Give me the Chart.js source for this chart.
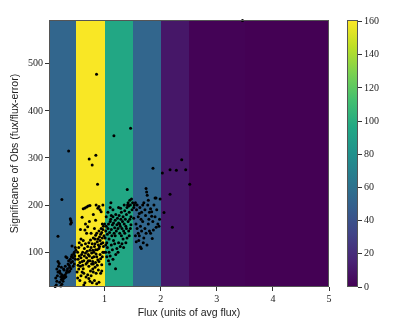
<!DOCTYPE html>
<html>
<head>
<meta charset="utf-8">
<script src="https://cdn.jsdelivr.net/npm/chart.js@4.4.1/dist/chart.umd.min.js"></script>
<style>
  html, body { margin: 0; padding: 0; background: #ffffff; }
  #wrap { position: relative; width: 407px; height: 327px; }
  #wrap canvas { position: absolute; left: 0; top: 0; }
</style>
</head>
<body>
<div id="wrap">
  <canvas id="main" width="407" height="327"></canvas>
  <canvas id="cbar" width="407" height="327"></canvas>
</div>
<script>
// ---- data ----
const binEdges = [0, 0.5, 1.0, 1.5, 2.0, 2.5, 3.0, 3.5, 4.0, 4.5, 5.0];
const binCounts = [53, 160, 96, 53, 10, 1, 1, 0, 0, 0];
const xTicks = [1, 2, 3, 4, 5];
const yTicks = [100, 200, 300, 400, 500];
const cbTicks = [0, 20, 40, 60, 80, 100, 120, 140, 160];
const xTitle = 'Flux (units of avg flux)';
const yTitle = 'Significance of Obs (fux/flux-error)';

// flux, significance
const pointsLow = [
  [0.12,27],[0.14,30],[0.15,38],[0.13,45],[0.16,50],[0.17,58],[0.15,64],[0.18,70],[0.19,76],[0.17,80],
  [0.2,60],[0.21,55],[0.22,48],[0.23,42],[0.24,52],[0.25,45],[0.26,48],[0.27,44],[0.28,50],[0.29,46],
  [0.30,52],[0.31,48],[0.32,56],[0.33,60],[0.34,65],[0.30,70],[0.28,62],[0.26,38],[0.24,32],[0.22,28],
  [0.2,36],[0.35,75],[0.36,82],[0.37,72],[0.38,68],[0.39,85],[0.4,78],[0.41,90],[0.42,94],[0.43,80],
  [0.44,88],[0.45,96],[0.46,100],[0.47,92],[0.48,110],[0.49,104],[0.42,113],[0.44,70],[0.38,60],[0.33,88],
  [0.31,90],[0.27,64],[0.23,68],[0.36,58],[0.4,65],[0.46,75],[0.48,85],
  [0.17,134],[0.24,212],[0.36,315],[0.39,171],[0.40,167],[0.41,163],[0.395,160]
];
const pointsMid = [
  [0.55,92],[0.52,100],[0.53,85],[0.56,78],[0.57,70],[0.54,64],[0.58,88],[0.59,95],[0.6,80],[0.61,72],
  [0.62,65],[0.6,58],[0.58,50],[0.56,40],[0.63,30],[0.65,35],[0.67,47],[0.7,52],[0.72,44],[0.74,38],
  [0.78,35],[0.82,40],[0.86,33],[0.9,36],[0.93,55],[0.95,60],[0.75,60],[0.8,58],[0.64,92],[0.66,98],
  [0.68,88],[0.69,78],[0.71,82],[0.73,92],[0.74,104],[0.76,110],[0.77,98],[0.78,88],[0.79,80],[0.8,75],
  [0.81,100],[0.82,112],[0.83,118],[0.84,105],[0.85,96],[0.86,90],[0.87,122],[0.88,128],[0.89,115],[0.9,108],
  [0.91,132],[0.92,125],[0.93,138],[0.94,118],[0.95,142],[0.96,130],[0.97,148],[0.98,112],[0.99,135],[0.97,100],
  [0.92,95],[0.88,84],[0.84,78],[0.72,70],[0.67,75],[0.63,82],[0.61,100],[0.7,112],[0.72,120],[0.75,126],
  [0.78,118],[0.8,130],[0.84,136],[0.86,140],[0.9,145],[0.94,150],[0.98,155],[0.96,160],[0.82,150],[0.76,140],
  [0.68,140],[0.65,147],[0.7,154],[0.6,174],[0.84,168],[0.62,192],[0.65,194],[0.68,196],[0.71,198],[0.74,199],
  [0.85,200],[0.88,193],[0.9,197],[0.92,190],[0.97,200],[0.94,186],[0.8,180],[0.73,165],[0.66,160],[0.57,148],
  [0.55,120],[0.54,110],[0.59,115],[0.62,125],[0.64,108],[0.66,118],[0.69,102],[0.71,95],[0.77,75],[0.79,64],
  [0.83,68],[0.87,72],[0.9,80],[0.93,86],[0.96,90],[0.99,100],[0.95,73],[0.89,62],[0.85,55],[0.76,50],
  [0.63,55],[0.52,45],[0.51,58],[0.53,72],[0.58,128],[0.74,82],[0.81,90],[0.91,112],[0.97,120],[0.87,105],
  [0.83,128],[0.79,104],
  [0.857,478],[0.726,298],[0.845,306],[0.78,285],[0.875,244]
];
const pointsHigh = [
  [1.01,130],[1.02,145],[1.03,155],[1.04,120],[1.05,138],[1.06,150],[1.07,160],[1.08,128],[1.09,142],[1.1,165],
  [1.11,170],[1.12,148],[1.13,135],[1.14,158],[1.15,175],[1.16,162],[1.17,140],[1.18,152],[1.19,168],[1.2,180],
  [1.21,145],[1.22,158],[1.23,172],[1.24,150],[1.25,162],[1.26,178],[1.27,140],[1.28,155],[1.29,170],[1.3,185],
  [1.31,150],[1.32,165],[1.33,175],[1.34,145],[1.35,160],[1.36,188],[1.37,170],[1.38,155],[1.39,180],[1.4,195],
  [1.41,200],[1.42,205],[1.43,198],[1.44,185],[1.45,210],[1.46,200],[1.47,175],[1.48,213],[1.49,190],[1.05,110],
  [1.08,100],[1.1,92],[1.12,115],[1.14,105],[1.16,125],[1.18,118],[1.2,95],[1.22,108],[1.25,120],[1.28,112],
  [1.3,135],[1.33,128],[1.36,140],[1.38,120],[1.4,130],[1.43,145],[1.46,150],[1.03,175],[1.06,185],[1.1,195],
  [1.113,205],[1.15,190],[1.25,195],[1.286,193],[1.02,100],[1.04,90],[1.07,82],[1.196,65],[1.09,75],[1.15,85],
  [1.24,100],[1.34,110],[1.42,165],[1.45,170],[1.35,200],[1.0,160],[1.02,115],[1.12,178],[1.19,135],[1.27,160],
  [1.31,118],[1.39,150],[1.44,135],[1.47,158],
  [1.405,233],[1.167,347],[1.464,363]
];
const pointsTail = [
  [1.5,205],[1.52,195],[1.53,200],[1.55,205],[1.57,190],[1.58,200],[1.6,175],[1.62,182],[1.63,195],[1.65,170],
  [1.66,185],[1.68,200],[1.7,205],[1.72,190],[1.73,178],[1.74,235],[1.75,228],[1.76,221],[1.77,200],[1.78,210],
  [1.8,185],[1.82,192],[1.84,176],[1.86,165],[1.88,200],[1.9,215],[1.93,190],[1.95,160],[1.97,155],[1.99,213],
  [1.56,160],[1.58,150],[1.6,140],[1.62,135],[1.64,155],[1.66,145],[1.68,165],[1.7,130],[1.72,150],[1.74,140],
  [1.78,160],[1.8,145],[1.82,140],[1.85,129],[1.87,147],[1.92,153],[1.565,122],[1.64,111],[1.655,108],[1.756,115],
  [1.69,120],[1.55,135],[1.52,172],[1.863,278],[1.917,215],[1.79,170],[1.84,186],[1.61,125],[1.9,175],[1.98,170],
  [2.03,268],[2.167,275],[2.28,274],[2.375,296],[2.446,275],[2.518,244],[2.167,223],[2.06,184],[2.208,153],[3.458,592]
];

// ---- helpers ----
const viridisStops = ['#440154','#482475','#414487','#355f8d','#2a788e','#21918c','#22a884','#44bf70','#7ad151','#bddf26','#fde725'];
function hexToRgb(h){ return [parseInt(h.slice(1,3),16),parseInt(h.slice(3,5),16),parseInt(h.slice(5,7),16)]; }
function viridis(t){
  t = Math.max(0, Math.min(1, t));
  const p = t * (viridisStops.length - 1);
  const i = Math.min(Math.floor(p), viridisStops.length - 2);
  const f = p - i;
  const a = hexToRgb(viridisStops[i]), b = hexToRgb(viridisStops[i+1]);
  const c = a.map((v,k)=>Math.round(v + (b[k]-v)*f));
  return 'rgb(' + c.join(',') + ')';
}
const cMax = 161;

const serif = "'Liberation Serif', 'DejaVu Serif', serif";
const sans = "'Liberation Sans Narrow', 'Liberation Sans', 'DejaVu Sans', sans-serif";

const bandsPlugin = {
  id: 'bands',
  beforeDatasetsDraw(chart) {
    const {ctx, chartArea, scales} = chart;
    ctx.save();
    ctx.beginPath();
    ctx.rect(chartArea.left, chartArea.top, chartArea.right - chartArea.left, chartArea.bottom - chartArea.top);
    ctx.clip();
    for (let i = 0; i < binCounts.length; i++) {
      const x0 = scales.x.getPixelForValue(binEdges[i]);
      const x1 = scales.x.getPixelForValue(binEdges[i+1]);
      ctx.fillStyle = viridis(binCounts[i] / cMax);
      ctx.fillRect(Math.round(x0), chartArea.top, Math.round(x1) - Math.round(x0), chartArea.bottom - chartArea.top);
    }
    ctx.restore();
  },
  afterDraw(chart) {
    const {ctx, chartArea} = chart;
    ctx.save();
    ctx.strokeStyle = '#555';
    ctx.lineWidth = 1;
    ctx.strokeRect(Math.round(chartArea.left)+0.5, Math.round(chartArea.top)+0.5,
      Math.round(chartArea.right) - Math.round(chartArea.left) - 1, Math.round(chartArea.bottom) - Math.round(chartArea.top) - 1);
    ctx.restore();
  }
};

const allPoints = pointsLow.concat(pointsMid, pointsHigh, pointsTail).map(p => ({x: p[0], y: p[1]}));

new Chart(document.getElementById('main'), {
  type: 'scatter',
  data: {
    datasets: [{
      data: allPoints,
      backgroundColor: '#000',
      borderColor: '#000',
      pointRadius: 1.5,
      pointBorderWidth: 0,
      clip: false
    }]
  },
  options: {
    responsive: false,
    animation: false,
    devicePixelRatio: 1,
    layout: { padding: { left: 0, top: 20, right: 78, bottom: 0 } },
    plugins: { legend: { display: false }, tooltip: { enabled: false } },
    scales: {
      x: {
        type: 'linear', min: 0.01, max: 5,
        afterFit: s => { s.height = 40; },
        afterBuildTicks: s => { s.ticks = xTicks.map(v => ({value: v})); },
        grid: { drawOnChartArea: false, drawTicks: true, tickLength: 4, tickColor: '#333' },
        border: { display: false },
        ticks: { color: '#222', font: { family: serif, size: 10 }, padding: 2, maxRotation: 0 },
        title: { display: true, text: xTitle, color: '#222', font: { family: sans, size: 10.5 }, padding: { top: 0, bottom: 8 } }
      },
      y: {
        type: 'linear', min: 26, max: 593,
        afterFit: s => { s.width = 49; },
        afterBuildTicks: s => { s.ticks = yTicks.map(v => ({value: v})); },
        grid: { drawOnChartArea: false, drawTicks: true, tickLength: 4, tickColor: '#333' },
        border: { display: false },
        ticks: { color: '#222', font: { family: serif, size: 10 }, padding: 2 },
        title: { display: true, text: yTitle, color: '#222', font: { family: sans, size: 10.5 }, padding: { top: 9, bottom: 0 } }
      }
    }
  },
  plugins: [bandsPlugin]
});

const cbarPlugin = {
  id: 'cbarGrad',
  beforeDatasetsDraw(chart) {
    const {ctx, chartArea, scales} = chart;
    const y0 = scales.y.getPixelForValue(0);
    const y1 = scales.y.getPixelForValue(cMax);
    const g = ctx.createLinearGradient(0, y0, 0, y1);
    for (let i = 0; i < viridisStops.length; i++) g.addColorStop(i / (viridisStops.length - 1), viridisStops[i]);
    ctx.save();
    ctx.fillStyle = g;
    ctx.fillRect(chartArea.left, chartArea.top, chartArea.right - chartArea.left, chartArea.bottom - chartArea.top);
    ctx.restore();
  },
  afterDraw(chart) {
    const {ctx, chartArea} = chart;
    ctx.save();
    ctx.strokeStyle = '#555';
    ctx.lineWidth = 1;
    ctx.strokeRect(Math.round(chartArea.left)+0.5, Math.round(chartArea.top)+0.5,
      Math.round(chartArea.right) - Math.round(chartArea.left) - 1, Math.round(chartArea.bottom) - Math.round(chartArea.top) - 1);
    ctx.restore();
  }
};

new Chart(document.getElementById('cbar'), {
  type: 'scatter',
  data: { datasets: [{ data: [] }] },
  options: {
    responsive: false,
    animation: false,
    devicePixelRatio: 1,
    layout: { padding: { left: 347, top: 20, right: 0, bottom: 40 } },
    plugins: { legend: { display: false }, tooltip: { enabled: false } },
    scales: {
      x: { display: false, min: 0, max: 1 },
      y: {
        position: 'right', min: 0, max: cMax,
        afterFit: s => { s.width = 49; },
        afterBuildTicks: s => { s.ticks = cbTicks.map(v => ({value: v})); },
        grid: { drawOnChartArea: false, drawTicks: true, tickLength: 4, tickColor: '#333' },
        border: { display: false },
        ticks: { color: '#222', font: { family: serif, size: 10 }, padding: 2 }
      }
    }
  },
  plugins: [cbarPlugin]
});
</script>
</body>
</html>
